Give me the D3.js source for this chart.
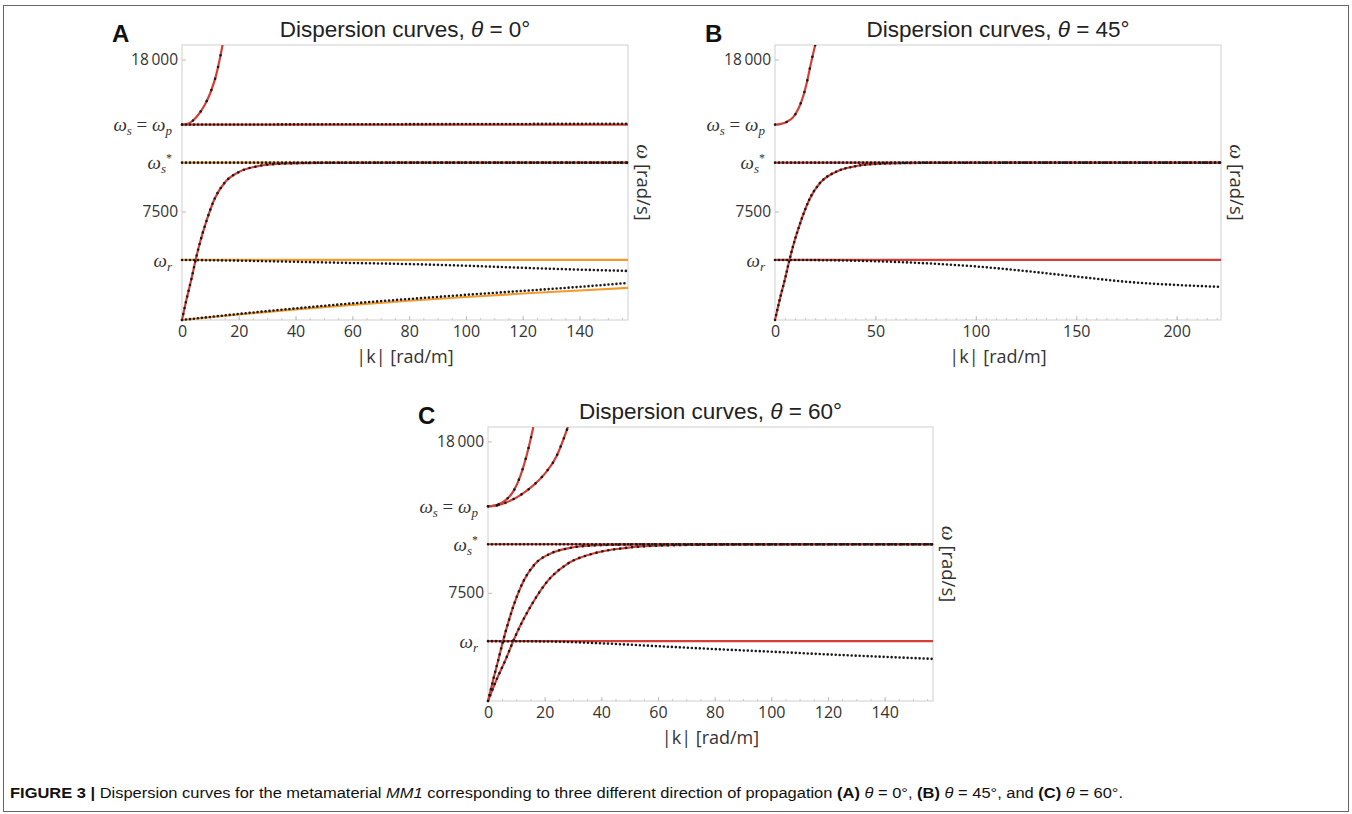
<!DOCTYPE html>
<html>
<head>
<meta charset="utf-8">
<script src="https://cdn.jsdelivr.net/npm/d3@7"></script>
<style>
  body { margin: 0; background: #fff; }
  svg { display: block; }
</style>
</head>
<body>
<div id="chart"></div>
<script>
// ---- levels on the frequency axis (rad/s)
const W_R = 4150, W_SSTAR = 10870, W_P = 13500;
const yTicks = [W_R, 7500, W_SSTAR, W_P, 18000];
const yMax = 19000;

// ---- panel A, theta = 0
const xTicksA = [0, 20, 40, 60, 80, 100, 120, 140];
const kA_span = [0, 157.08];
const wA_pLine = [13500, 13500];
const wA_pDots = [13500, 13560];
const wA_sLine = [10870, 10870];
const wA_rLine = [4150, 4150];
const kA_up = [0, 2, 4, 6, 8, 10, 12, 14.3];
const wA_up = [13500, 13560, 13800, 14250, 14850, 15700, 16900, 19000];
const kA_rise = [0, 1.7, 3.4, 4.8, 6.6, 8.4, 11.5, 15, 20.3, 26, 35, 50, 80, 157.08];
const wA_rise = [0, 1520, 2900, 4150, 5540, 6710, 8380, 9480, 10250, 10600, 10800, 10860, 10870, 10870];
const kA_rDots = [0, 20, 40, 60, 76, 100, 111, 130, 157.08];
const wA_rDots = [4150, 4100, 4020, 3940, 3880, 3750, 3670, 3540, 3390];
const kA_low = [0, 20, 40, 60, 80, 100, 120, 140, 157.08];
const wA_lowDots = [0, 420, 800, 1150, 1450, 1740, 2010, 2290, 2560];
const wA_lowLine = [0, 380, 730, 1050, 1330, 1590, 1830, 2040, 2215];

// ---- panel B, theta = 45
const xTicksB = [0, 50, 100, 150, 200];
const kB_span = [0, 222.1];
const wB_sLine = [10870, 10870];
const wB_rLine = [4150, 4150];
const kB_up = [0, 3, 6, 9, 12, 14, 16, 18, 20];
const wB_up = [13500, 13550, 13700, 14000, 14700, 15440, 16500, 17800, 19000];
const kB_rise = [0, 2.55, 5.1, 7.2, 9.9, 12.6, 17.3, 22.5, 30.5, 39, 52.5, 75, 120, 222.1];
const wB_rise = [0, 1520, 2900, 4150, 5540, 6710, 8380, 9480, 10250, 10600, 10800, 10860, 10870, 10870];
const kB_rDots = [0, 25, 50, 75, 100, 125, 150, 175, 200, 222.1];
const wB_rDots = [4150, 4130, 4060, 3920, 3700, 3380, 3000, 2640, 2420, 2290];

// ---- panel C, theta = 60
const xTicksC = [0, 20, 40, 60, 80, 100, 120, 140];
const kC_span = [0, 157.08];
const wC_sLine = [10870, 10870];
const wC_rLine = [4150, 4150];
const kC_up1 = [0, 3, 6, 9, 11.5, 14, 16];
const wC_up1 = [13500, 13580, 13900, 14550, 15650, 17300, 19000];
const kC_up2 = [0, 4, 8, 12, 16, 20, 24, 28.2];
const wC_up2 = [13500, 13600, 13900, 14350, 14950, 15750, 16900, 19000];
const kC_rise1 = [0, 1.9, 3.7, 5.3, 7.3, 9.2, 12.7, 16.5, 22.3, 28.6, 38.5, 55, 88, 157.08];
const wC_rise1 = [0, 1520, 2900, 4150, 5540, 6710, 8380, 9480, 10250, 10600, 10800, 10860, 10870, 10870];
const kC_rise2 = [0, 3.1, 6.3, 8.9, 12.2, 15.5, 21.3, 27.8, 37.6, 48.1, 64.8, 92.5, 130, 157.08];
const wC_rise2 = [0, 1520, 2900, 4150, 5540, 6710, 8380, 9480, 10250, 10600, 10800, 10860, 10870, 10870];
const kC_rDots = [0, 20, 40, 60, 80, 100, 120, 140, 157.08];
const wC_rDots = [4150, 4130, 4000, 3800, 3600, 3420, 3230, 3060, 2920];

const RED = "#d23f36", ORANGE = "#f29b2e", DOT = "#1a1a1a";

const panels = [
  { letter: "A", theta: "0", left: 182, right: 628, top: 45, bottom: 320,
    kMax: 157.08, xTicks: xTicksA,
    series: [
      { k: kA_low, w: wA_lowLine, type: "orange" },
      { k: kA_span, w: wA_rLine, type: "orange" },
      { k: kA_span, w: wA_sLine, type: "orange" },
      { k: kA_span, w: wA_pLine, type: "red" },
      { k: kA_rise, w: wA_rise, type: "red" },
      { k: kA_up, w: wA_up, type: "red" },
      { k: kA_low, w: wA_lowDots, type: "dots", gap: 4 },
      { k: kA_rDots, w: wA_rDots, type: "dots", gap: 4 },
      { k: kA_span, w: wA_sLine, type: "dots", gap: 4 },
      { k: kA_rise, w: wA_rise, type: "dots", gap: 6 },
      { k: kA_span, w: wA_pDots, type: "dots", gap: 4 },
      { k: kA_up, w: wA_up, type: "dots", gap: 12 }
    ] },
  { letter: "B", theta: "45", left: 775, right: 1221, top: 45, bottom: 320,
    kMax: 222.1, xTicks: xTicksB,
    series: [
      { k: kB_span, w: wB_rLine, type: "red" },
      { k: kB_span, w: wB_sLine, type: "red" },
      { k: kB_rise, w: wB_rise, type: "red" },
      { k: kB_up, w: wB_up, type: "red" },
      { k: kB_rDots, w: wB_rDots, type: "dots", gap: 4 },
      { k: kB_span, w: wB_sLine, type: "dots", gap: 4 },
      { k: kB_rise, w: wB_rise, type: "dots", gap: 5 },
      { k: kB_up, w: wB_up, type: "dots", gap: 12 }
    ] },
  { letter: "C", theta: "60", left: 488, right: 933, top: 427, bottom: 701,
    kMax: 157.08, xTicks: xTicksC,
    series: [
      { k: kC_span, w: wC_rLine, type: "red" },
      { k: kC_span, w: wC_sLine, type: "red" },
      { k: kC_rise1, w: wC_rise1, type: "red" },
      { k: kC_rise2, w: wC_rise2, type: "red" },
      { k: kC_up1, w: wC_up1, type: "red" },
      { k: kC_up2, w: wC_up2, type: "red" },
      { k: kC_rDots, w: wC_rDots, type: "dots", gap: 4 },
      { k: kC_span, w: wC_sLine, type: "dots", gap: 4 },
      { k: kC_rise1, w: wC_rise1, type: "dots", gap: 6 },
      { k: kC_rise2, w: wC_rise2, type: "dots", gap: 6 },
      { k: kC_up1, w: wC_up1, type: "dots", gap: 11 },
      { k: kC_up2, w: wC_up2, type: "dots", gap: 9 }
    ] }
];

const svg = d3.select("#chart").append("svg")
  .attr("width", 1352).attr("height", 814);

// figure frame
svg.append("rect")
  .attr("x", 3.5).attr("y", 5.5).attr("width", 1345).attr("height", 806)
  .attr("fill", "none").attr("stroke", "#666").attr("stroke-width", 1);

const mathFont = "'Liberation Serif', 'DejaVu Serif', serif";
const tickFont = "'Open Sans', 'DejaVu Sans', sans-serif";

// y tick label contents
function yLabel(sel, v) {
  sel.text(null);
  if (v === 18000) {
    sel.attr("font-family", tickFont).attr("font-size", 15.5).attr("x", -4).text("18\u2009000");
  } else if (v === 7500) {
    sel.attr("font-family", tickFont).attr("font-size", 15.5).attr("x", -4).text("7500");
  } else {
    sel.attr("font-family", mathFont).attr("font-size", 19).attr("font-style", "italic").attr("x", -10);
    if (v === W_P) {
      sel.append("tspan").text("ω");
      sel.append("tspan").attr("font-size", 13).attr("dy", 4).text("s");
      sel.append("tspan").attr("font-style", "normal").attr("dy", -4).text(" = ");
      sel.append("tspan").text("ω");
      sel.append("tspan").attr("font-size", 13).attr("dy", 4).text("p");
    } else if (v === W_SSTAR) {
      sel.append("tspan").text("ω");
      sel.append("tspan").attr("font-size", 13).attr("dy", 4).text("s");
      sel.append("tspan").attr("font-size", 12).attr("font-style", "normal").attr("dx", 0).attr("dy", -11).text("*");
    } else if (v === W_R) {
      sel.append("tspan").text("ω");
      sel.append("tspan").attr("font-size", 13).attr("dy", 4).text("r");
    }
  }
}

panels.forEach(p => {
  const g = svg.append("g");
  const x = d3.scaleLinear().domain([0, p.kMax]).range([p.left, p.right]);
  const y = d3.scaleLinear().domain([0, yMax]).range([p.bottom, p.top]);

  // frame of the plot
  g.append("rect")
    .attr("x", p.left).attr("y", p.top)
    .attr("width", p.right - p.left).attr("height", p.bottom - p.top)
    .attr("fill", "none").attr("stroke", "#cfcfcf").attr("stroke-width", 1);

  // minor ticks
  g.append("g")
    .attr("transform", `translate(0, ${p.bottom})`)
    .call(d3.axisBottom(x).tickValues(x.ticks(40)).tickSize(-2).tickFormat(""))
    .call(a => a.select(".domain").remove())
    .call(a => a.selectAll("line").attr("stroke", "#c8c8c8"));

  // x axis
  const xa = g.append("g")
    .attr("transform", `translate(0, ${p.bottom})`)
    .call(d3.axisBottom(x).tickValues(p.xTicks).tickSize(-4).tickPadding(6));
  xa.select(".domain").remove();
  xa.selectAll("line").attr("stroke", "#bdbdbd");
  xa.selectAll("text").attr("font-family", tickFont).attr("font-size", 16).attr("fill", "#333");

  // y axis
  const ya = g.append("g")
    .attr("transform", `translate(${p.left}, 0)`)
    .call(d3.axisLeft(y).tickValues(yTicks).tickSize(-4).tickPadding(4));
  ya.select(".domain").remove();
  ya.selectAll("line").attr("stroke", "#bdbdbd");
  ya.selectAll("text").attr("fill", "#333").each(function (d) { yLabel(d3.select(this), d); });

  // curves
  const clipId = "clip" + p.letter;
  svg.append("clipPath").attr("id", clipId).append("rect")
    .attr("x", p.left - 2).attr("y", p.top).attr("width", p.right - p.left + 4).attr("height", p.bottom - p.top + 2);
  const plot = g.append("g").attr("clip-path", `url(#${clipId})`);
  const line = d3.line().x(d => x(d[0])).y(d => y(d[1])).curve(d3.curveMonotoneX);

  p.series.forEach(s => {
    const pts = s.k.map((k, i) => [k, s.w[i]]);
    const path = plot.append("path").datum(pts).attr("d", line).attr("fill", "none");
    if (s.type === "dots") {
      path.attr("stroke", DOT).attr("stroke-width", 2.6)
        .attr("stroke-linecap", "round").attr("stroke-dasharray", `0 ${s.gap}`);
    } else {
      path.attr("stroke", s.type === "red" ? RED : ORANGE).attr("stroke-width", 2.2);
    }
  });

  // title
  const t = svg.append("text")
    .attr("x", (p.left + p.right) / 2).attr("y", p.top - 8)
    .attr("text-anchor", "middle")
    .attr("font-family", "'Liberation Sans', Arial, sans-serif")
    .attr("font-size", 22.5).attr("fill", "#222");
  t.append("tspan").text("Dispersion curves, ");
  t.append("tspan").attr("font-style", "italic").text("θ");
  t.append("tspan").text(` = ${p.theta}°`);

  // panel letter
  svg.append("text")
    .attr("x", p.left - 70).attr("y", p.top - 3)
    .attr("font-family", "'Liberation Sans', Arial, sans-serif")
    .attr("font-weight", "bold").attr("font-size", 24).attr("fill", "#111")
    .text(p.letter);

  // x label
  svg.append("text")
    .attr("x", (p.left + p.right) / 2).attr("y", p.bottom + 43)
    .attr("text-anchor", "middle")
    .attr("font-family", tickFont).attr("font-size", 18).attr("fill", "#333")
    .text("|k| [rad/m]");

  // y label on the right side
  const yl = svg.append("text")
    .attr("transform", `translate(${p.right + 9}, ${(p.top + p.bottom) / 2}) rotate(90)`)
    .attr("text-anchor", "middle")
    .attr("font-family", tickFont).attr("font-size", 18.5).attr("fill", "#333");
  yl.append("tspan").attr("font-family", mathFont).attr("font-style", "italic").attr("font-size", 21).text("ω");
  yl.append("tspan").text(" [rad/s]");
});

// caption
const cap = svg.append("text")
  .attr("x", 10).attr("y", 798)
  .attr("font-family", "'Liberation Sans Narrow', 'Arial Narrow', 'Liberation Sans', sans-serif")
  .attr("font-size", 15.5).attr("fill", "#111")
  .attr("textLength", 1113).attr("lengthAdjust", "spacingAndGlyphs");
const capParts = [
  ["FIGURE 3 | ", "b"], ["Dispersion curves for the metamaterial ", ""], ["MM1", "i"],
  [" corresponding to three different direction of propagation ", ""],
  ["(A)", "b"], [" ", ""], ["θ", "i"], [" = 0°, ", ""],
  ["(B)", "b"], [" ", ""], ["θ", "i"], [" = 45°, and ", ""],
  ["(C)", "b"], [" ", ""], ["θ", "i"], [" = 60°.", ""]
];
capParts.forEach(([txt, st]) => {
  const ts = cap.append("tspan").text(txt);
  if (st === "b") ts.attr("font-weight", "bold");
  if (st === "i") ts.attr("font-style", "italic");
});
</script>
</body>
</html>
